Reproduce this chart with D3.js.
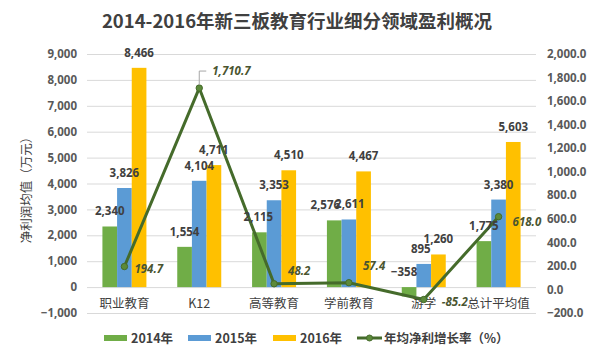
<!DOCTYPE html>
<html><head><meta charset="utf-8">
<script src="https://cdn.jsdelivr.net/npm/d3@7"></script>
<style>
html,body{margin:0;padding:0;background:#fff;}
svg{display:block;font-family:"Noto Sans CJK SC","Noto Sans",sans-serif;}
</style></head>
<body><svg id="c" width="596" height="356"></svg>
<script>
const title = "2014-2016年新三板教育行业细分领域盈利概况";
const categories = ["职业教育","K12","高等教育","学前教育","游学","总计平均值"];
const seriesNames = ["2014年","2015年","2016年"];
const values2014 = [2340,1554,2115,2576,-358,1775];
const values2015 = [3826,4104,3353,2611,895,3380];
const values2016 = [8466,4711,4510,4467,1260,5603];
const growthName = "年均净利增长率（%）";
const growth = [194.7,1710.7,48.2,57.4,-85.2,618.0];
const leftTicks = [-1000,0,1000,2000,3000,4000,5000,6000,7000,8000,9000];
const rightTicks = [-200,0,200,400,600,800,1000,1200,1400,1600,1800,2000];
const yTitle = "净利润均值（万元）";

const colors = ["#70ad47","#5b9bd5","#ffc000"];
const lineColor = "#456b2b";
const textColor = "#404040";
// label offsets for line labels [dx, dy]
const growthLabelOffsets = [[10,2],[13,-17],[14,-13],[14,-17],[18,3],[14,5]];
// horizontal nudges for crowded bar labels, keyed "category|series"
const barLabelNudge = {"学前教育|2014年":-9, "学前教育|2015年":1, "游学|2015年":-3, "游学|2014年":-5, "高等教育|2014年":-1};

const svg = d3.select("#c");
const L = 87, R = 536, T = 54, B = 313;

const x = d3.scaleBand().domain(categories).range([L,R]);
const yL = d3.scaleLinear().domain([-1000,9000]).range([B,T]);
const yR = d3.scaleLinear().domain([-200,2000]).range([B,T]);
const groupW = 44;
const xs = d3.scaleBand().domain(seriesNames).range([0,groupW]);

// title
svg.append("text").attr("x",297).attr("y",28).attr("text-anchor","middle")
  .attr("font-size",18.5).attr("font-weight","bold").attr("fill",textColor).text(title);

// gridlines
svg.append("g").selectAll("line").data(leftTicks).join("line")
  .attr("x1",L).attr("x2",R).attr("y1",d=>yL(d)+0.5).attr("y2",d=>yL(d)+0.5)
  .attr("stroke","#d9d9d9").attr("stroke-width",1);

// left axis
const la = svg.append("g").attr("transform",`translate(${L-10},0)`)
  .call(d3.axisLeft(yL).tickValues(leftTicks).tickFormat(d3.format(",")).tickSize(0).tickPadding(0));
la.select(".domain").remove();
la.selectAll("text").attr("font-size",11.5).attr("font-weight","bold").attr("fill","#595959")
  .attr("font-family","'Noto Sans','Noto Sans CJK SC',sans-serif");

// right axis
const ra = svg.append("g").attr("transform",`translate(${R+11},0)`)
  .call(d3.axisRight(yR).tickValues(rightTicks).tickFormat(d3.format(",.1f")).tickSize(0).tickPadding(0));
ra.select(".domain").remove();
ra.selectAll("text").attr("font-size",11.5).attr("font-weight","bold").attr("fill","#595959")
  .attr("font-family","'Noto Sans','Noto Sans CJK SC',sans-serif");

// y title
svg.append("text").attr("transform","translate(31,187) rotate(-90)").attr("text-anchor","middle")
  .attr("font-size",12.5).attr("fill",textColor).text(yTitle);

// bars
const all = [values2014,values2015,values2016];
const barData = [];
categories.forEach((c,i)=>{
  all.forEach((arr,s)=>barData.push({c, s, name:seriesNames[s], v:arr[i]}));
});
const gx = c => x(c) + (x.bandwidth()-groupW)/2;
svg.append("g").selectAll("rect").data(barData).join("rect")
  .attr("x",d=>gx(d.c)+xs(d.name))
  .attr("width",xs.bandwidth())
  .attr("y",d=>yL(Math.max(0,d.v)))
  .attr("height",d=>Math.abs(yL(d.v)-yL(0)))
  .attr("fill",d=>colors[d.s]);

// category labels
svg.append("g").selectAll("text").data(categories).join("text")
  .attr("x",d=>x(d)+x.bandwidth()/2).attr("y",308)
  .attr("text-anchor","middle").attr("font-size",12.5).attr("fill",textColor)
  .text(d=>d);

// line
const pts = categories.map((c,i)=>({c, v:growth[i], x:x(c)+x.bandwidth()/2, y:yR(growth[i])}));
svg.append("path").datum(pts)
  .attr("d",d3.line().x(d=>d.x).y(d=>d.y))
  .attr("fill","none").attr("stroke",lineColor).attr("stroke-width",3).attr("stroke-linejoin","round");
svg.append("g").selectAll("circle").data(pts).join("circle")
  .attr("cx",d=>d.x).attr("cy",d=>d.y).attr("r",3.2)
  .attr("fill","#5c8a3a").attr("stroke",lineColor).attr("stroke-width",1);

// bar labels
svg.append("g").selectAll("text").data(barData).join("text")
  .attr("x",d=>gx(d.c)+xs(d.name)+xs.bandwidth()/2 + (barLabelNudge[d.c+"|"+d.name]||0))
  .attr("y",d=>yL(Math.max(0,d.v)) - 11)
  .attr("text-anchor","middle").attr("font-size",11.5).attr("font-weight","bold")
  .attr("fill",textColor).attr("font-family","'Noto Sans','Noto Sans CJK SC',sans-serif")
  .text(d=>d3.format(",")(d.v));

// leader line for peak label
const peak = pts[1];
svg.append("path")
  .attr("d",`M${peak.x},${peak.y-3} V${peak.y-17} H${peak.x+7}`)
  .attr("fill","none").attr("stroke","#a6a6a6").attr("stroke-width",1);

// growth labels
svg.append("g").selectAll("text").data(pts).join("text")
  .attr("x",(d,i)=>d.x+growthLabelOffsets[i][0])
  .attr("y",(d,i)=>d.y+growthLabelOffsets[i][1]+4)
  .attr("font-size",11.5).attr("font-style","italic").attr("font-weight","bold")
  .attr("fill","#4a5530").attr("font-family","'Noto Sans','Noto Sans CJK SC',sans-serif")
  .text(d=>d3.format(",.1f")(d.v));

// legend
const legend = svg.append("g");
const legItems = [
  {type:"bar", color:colors[0], label:seriesNames[0], x:104},
  {type:"bar", color:colors[1], label:seriesNames[1], x:188},
  {type:"bar", color:colors[2], label:seriesNames[2], x:273},
  {type:"line", color:lineColor, label:growthName, x:357}
];
const ly = 338;
legItems.forEach(it=>{
  if(it.type==="bar"){
    legend.append("rect").attr("x",it.x).attr("y",ly-3).attr("width",23).attr("height",6).attr("fill",it.color);
  } else {
    legend.append("line").attr("x1",it.x).attr("x2",it.x+25).attr("y1",ly).attr("y2",ly)
      .attr("stroke",it.color).attr("stroke-width",3);
    legend.append("circle").attr("cx",it.x+12.5).attr("cy",ly).attr("r",3)
      .attr("fill","#5c8a3a").attr("stroke",it.color);
  }
  legend.append("text").attr("x",it.x+27).attr("y",ly+4.5)
    .attr("font-size",12.5).attr("font-weight","bold").attr("fill",textColor).text(it.label);
});
</script></body></html>
